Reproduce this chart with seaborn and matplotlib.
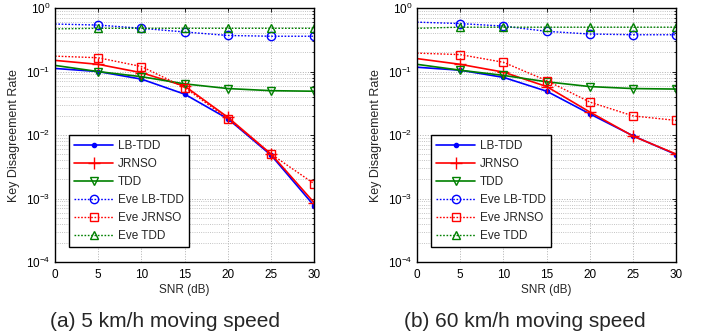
import matplotlib
matplotlib.use("Agg")
import matplotlib.pyplot as plt
import seaborn as sns
import numpy as np
from matplotlib.ticker import LogLocator, NullFormatter

sns.set_style("white")
plt.rcParams["font.family"] = ["Liberation Sans", "DejaVu Sans"]
plt.rcParams["mathtext.fontset"] = "custom"
plt.rcParams["mathtext.rm"] = "Liberation Sans"

snr = [0, 5, 10, 15, 20, 25, 30]

# (a) 5 km/h
a_lb_tdd = [0.112, 0.100, 0.076, 0.044, 0.018, 0.0048, 0.00076]
a_jrnso = [0.150, 0.130, 0.096, 0.059, 0.019, 0.0050, 0.00085]
a_tdd = [0.125, 0.100, 0.083, 0.064, 0.054, 0.050, 0.049]
a_eve_lb_tdd = [0.56, 0.54, 0.48, 0.42, 0.37, 0.36, 0.36]
a_eve_jrnso = [0.175, 0.165, 0.120, 0.056, 0.018, 0.0050, 0.0017]
a_eve_tdd = [0.47, 0.48, 0.48, 0.48, 0.48, 0.48, 0.48]

# (b) 60 km/h
b_lb_tdd = [0.117, 0.105, 0.081, 0.049, 0.0215, 0.0097, 0.0049]
b_jrnso = [0.160, 0.130, 0.098, 0.058, 0.023, 0.0096, 0.0050]
b_tdd = [0.130, 0.105, 0.087, 0.069, 0.058, 0.054, 0.053]
b_eve_lb_tdd = [0.60, 0.57, 0.52, 0.43, 0.39, 0.38, 0.38]
b_eve_jrnso = [0.195, 0.185, 0.140, 0.072, 0.033, 0.020, 0.017]
b_eve_tdd = [0.48, 0.50, 0.50, 0.50, 0.50, 0.50, 0.50]

labels = ["LB-TDD", "JRNSO", "TDD", "Eve LB-TDD", "Eve JRNSO", "Eve TDD"]
colors = ["#0000ff", "#ff0000", "#008000", "#0000ff", "#ff0000", "#008000"]
markers = [".", "+", "v", "o", "s", "^"]
msizes = [6, 9, 6, 6, 6, 6]
dotted = (0, (1.2, 1.2))
styles = ["-", "-", "-", dotted, dotted, dotted]
widths = [1.2, 1.2, 1.2, 1.0, 1.0, 1.0]

panels = [
    ("(a) 5 km/h moving speed",
     [a_lb_tdd, a_jrnso, a_tdd, a_eve_lb_tdd, a_eve_jrnso, a_eve_tdd]),
    ("(b) 60 km/h moving speed",
     [b_lb_tdd, b_jrnso, b_tdd, b_eve_lb_tdd, b_eve_jrnso, b_eve_tdd]),
]

fig = plt.figure(figsize=(7.07, 3.36), dpi=100)
lefts = [0.0778, 0.5898]
caption_x = [0.234, 0.743]

for (caption, series), left, cx in zip(panels, lefts, caption_x):
    ax = fig.add_axes([left, 0.220, 0.367, 0.756])
    for vals, lab, c, m, ms, ls, lw in zip(series, labels, colors, markers,
                                           msizes, styles, widths):
        sns.lineplot(x=snr, y=vals, ax=ax, color=c, marker=m, markersize=ms,
                     linestyle=ls, linewidth=lw, label=lab,
                     markerfacecolor="none" if m not in (".", "+") else c,
                     markeredgecolor=c, markeredgewidth=1.0,
                     markevery=slice(1, None))
    ax.set_yscale("log")
    ax.set_xlim(0, 30)
    ax.set_ylim(1e-4, 1)
    ax.set_xticks(range(0, 31, 5))
    ax.yaxis.set_major_locator(LogLocator(base=10, numticks=10))
    ax.yaxis.set_minor_locator(LogLocator(base=10, subs=np.arange(2, 10), numticks=20))
    ax.yaxis.set_minor_formatter(NullFormatter())
    ax.grid(True, which="major", color="#b0b0b0", linestyle=":", linewidth=0.7)
    ax.grid(True, which="minor", axis="y", color="#b0b0b0", linestyle=":", linewidth=0.6)
    ax.tick_params(which="both", direction="in", labelsize=8.5, top=True, right=True,
                   length=3, width=0.6, colors="black")
    ax.tick_params(which="minor", length=1.5)
    ax.tick_params(axis="x", pad=5)
    for sp in ax.spines.values():
        sp.set_color("black")
        sp.set_linewidth(1.0)
    ax.set_xlabel("SNR (dB)", fontsize=8.5, labelpad=2)
    ax.set_ylabel("Key Disagreement Rate", fontsize=9, labelpad=4)
    leg = ax.legend(loc="lower left", bbox_to_anchor=(0.054, 0.059), borderaxespad=0,
                    fontsize=8.5, frameon=True, fancybox=False, edgecolor="black",
                    handlelength=3.3, labelspacing=0.5, borderpad=0.45,
                    handletextpad=0.4)
    leg.get_frame().set_linewidth(1.0)
    leg.get_frame().set_alpha(1)
    fig.text(cx, 0.028, caption, ha="center", va="baseline", fontsize=15)

fig.savefig("out.png", dpi=100)
